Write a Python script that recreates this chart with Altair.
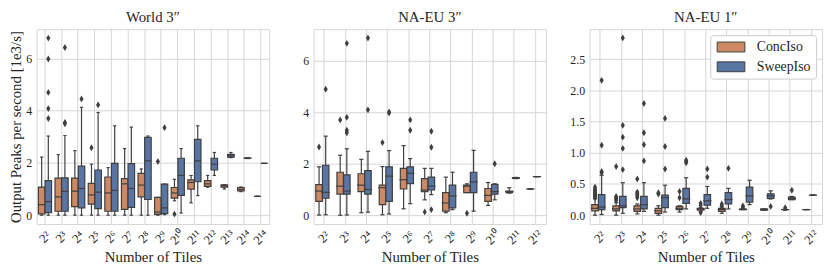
import altair as alt
import pandas as pd

HUES = ["ConcIso", "SweepIso"]
COLORS = ["#cc8963", "#5875a4"]
FONT = "Liberation Serif"
TEXT = "#262626"
GRID = "#d6d6d6"
LINE = "#3f3f3f"

# ---------------- World 3'' ----------------
W_LABELS = ["2²", "2³", "2⁴", "2⁵", "2⁶", "2⁷", "2⁸", "2⁹", "2¹⁰", "2¹¹", "2¹²", "2¹³", "2¹⁴", "2¹⁴"]
W_CONC_LO = [0.00, 0.00, 0.00, 0.00, 0.00, 0.00, 0.00, 0.00, 0.55, 0.47, 1.07, 1.00, 0.90, 0.72]
W_CONC_Q1 = [0.05, 0.15, 0.33, 0.42, 0.15, 0.22, 0.70, 0.03, 0.65, 1.00, 1.10, 1.07, 0.93, 0.72]
W_CONC_MED = [0.40, 0.70, 0.92, 0.78, 0.85, 1.20, 1.15, 0.12, 0.85, 1.25, 1.20, 1.12, 0.99, 0.72]
W_CONC_Q3 = [1.07, 1.42, 1.42, 1.22, 1.46, 1.40, 1.60, 0.68, 1.06, 1.35, 1.32, 1.16, 1.06, 0.72]
W_CONC_HI = [2.22, 2.32, 2.47, 1.95, 1.82, 2.55, 1.77, 0.68, 1.37, 1.52, 1.52, 1.17, 1.08, 0.72]
W_CONC_OUT = [[], [], [], [2.58], [], [], [], [2.05], [0.04], [], [], [], [], []]
W_SWEEP_LO = [0.00, 0.00, 0.00, 0.00, 0.00, 0.00, 0.00, 0.02, 0.08, 0.75, 1.52, 2.20, 2.17, 1.98]
W_SWEEP_Q1 = [0.10, 0.15, 0.28, 0.25, 0.15, 0.30, 0.60, 0.06, 0.76, 1.28, 1.73, 2.22, 2.17, 1.98]
W_SWEEP_MED = [0.52, 0.91, 1.02, 0.88, 0.95, 1.02, 2.08, 0.28, 1.52, 2.08, 1.95, 2.27, 2.18, 1.98]
W_SWEEP_Q3 = [1.32, 1.43, 1.88, 1.73, 1.98, 1.97, 2.98, 1.19, 2.18, 2.90, 2.18, 2.33, 2.19, 1.98]
W_SWEEP_HI = [3.03, 3.05, 4.13, 3.93, 3.42, 3.37, 3.03, 1.19, 2.55, 3.42, 2.40, 2.40, 2.20, 1.98]
W_SWEEP_OUT = [[3.70, 4.08, 4.70, 5.98, 6.78], [3.50, 3.55, 6.42], [4.45], [4.22], [], [], [], [3.35], [], [], [], [], [], []]

# ---------------- NA-EU 3'' ----------------
N3_LABELS = ["2²", "2³", "2⁴", "2⁵", "2⁶", "2⁷", "2⁸", "2⁹", "2¹⁰", "2¹¹", "2¹²"]
N3_CONC_LO = [0.01, 0.00, 0.10, 0.02, 0.25, 0.60, 0.10, 0.88, 0.38, 0.86, 1.02]
N3_CONC_Q1 = [0.54, 0.82, 0.92, 0.41, 1.02, 0.92, 0.16, 0.88, 0.54, 0.88, 1.02]
N3_CONC_MED = [0.94, 1.13, 1.17, 1.07, 1.38, 0.98, 0.48, 1.13, 0.77, 0.92, 1.02]
N3_CONC_Q3 = [1.19, 1.67, 1.61, 1.17, 1.82, 1.42, 0.88, 1.17, 1.04, 0.94, 1.02]
N3_CONC_HI = [1.88, 2.33, 2.17, 1.89, 2.70, 1.82, 1.48, 1.22, 1.27, 1.07, 1.02]
N3_CONC_OUT = [[2.65], [3.70], [], [2.82], [], [0.13], [], [0.08], [], [], []]
N3_SWEEP_LO = [0.02, 0.01, 0.12, 0.05, 0.45, 0.80, 0.22, 0.16, 0.60, 1.42, 1.50]
N3_SWEEP_Q1 = [0.66, 0.82, 0.82, 0.54, 1.23, 0.98, 0.29, 0.88, 0.82, 1.43, 1.50]
N3_SWEEP_MED = [0.89, 0.94, 1.00, 1.52, 1.63, 1.13, 0.75, 1.29, 0.92, 1.45, 1.50]
N3_SWEEP_Q3 = [1.94, 1.57, 1.73, 1.88, 1.88, 1.48, 1.17, 1.67, 1.20, 1.46, 1.50]
N3_SWEEP_HI = [3.07, 2.58, 2.48, 2.51, 2.20, 1.82, 1.67, 2.52, 1.22, 1.47, 1.50]
N3_SWEEP_OUT = [[4.89], [3.20, 3.30, 3.80, 6.67], [4.09, 6.88], [3.97, 4.01], [3.30, 3.70],
                [0.22, 2.64, 3.26], [], [], [2.00], [], []]

# ---------------- NA-EU 1'' ----------------
N1_LABELS = ["2²", "2³", "2⁴", "2⁵", "2⁶", "2⁷", "2⁸", "2⁹", "2¹⁰", "2¹¹", "2¹²"]
N1_CONC_LO = [0.00, 0.00, 0.02, 0.00, 0.05, 0.06, 0.03, 0.09, 0.08, 0.08, 0.09]
N1_CONC_Q1 = [0.07, 0.07, 0.06, 0.03, 0.09, 0.08, 0.06, 0.09, 0.08, 0.09, 0.09]
N1_CONC_MED = [0.11, 0.10, 0.10, 0.07, 0.11, 0.10, 0.09, 0.09, 0.09, 0.09, 0.09]
N1_CONC_Q3 = [0.17, 0.15, 0.15, 0.11, 0.14, 0.11, 0.11, 0.10, 0.10, 0.09, 0.09]
N1_CONC_HI = [0.26, 0.20, 0.18, 0.15, 0.15, 0.12, 0.13, 0.11, 0.10, 0.10, 0.09]
N1_CONC_OUT = [[0.28, 0.30, 0.32, 0.34, 0.36, 0.38, 0.40, 0.42, 0.45], [0.24, 0.26, 0.28, 0.30, 0.78],
               [0.28, 0.31, 0.33, 0.35, 0.37, 0.58], [0.34, 0.36], [0.28, 0.38], [0.04, 0.16, 0.19],
               [0.15, 0.18], [0.13, 0.15], [], [0.12], []]
N1_SWEEP_LO = [0.01, 0.03, 0.06, 0.05, 0.10, 0.11, 0.10, 0.17, 0.26, 0.25, 0.32]
N1_SWEEP_Q1 = [0.09, 0.12, 0.10, 0.12, 0.19, 0.16, 0.18, 0.21, 0.27, 0.25, 0.32]
N1_SWEEP_MED = [0.13, 0.15, 0.17, 0.28, 0.26, 0.23, 0.25, 0.31, 0.31, 0.27, 0.32]
N1_SWEEP_Q3 = [0.33, 0.30, 0.30, 0.32, 0.43, 0.33, 0.36, 0.45, 0.34, 0.29, 0.32]
N1_SWEEP_HI = [0.64, 0.52, 0.52, 0.48, 0.60, 0.46, 0.43, 0.56, 0.39, 0.30, 0.32]
N1_SWEEP_OUT = [[0.68, 0.70, 1.12, 2.16], [0.73, 1.07, 1.25, 1.44, 2.84], [0.87, 1.13, 1.32, 1.79],
                [0.74, 1.10, 1.55], [0.84, 0.86, 0.88], [0.61, 0.74], [0.75], [], [0.14], [0.40], []]

PANEL_W = 235
PANEL_H = 197
DIAMOND = "M0,-1L0.6,0L0,1L-0.6,0Z"


def build(title, labels, conc, sweep, conc_out, sweep_out, ydom, yvals, yfmt, ytitle,
          show_legend, min_ext):
    n = len(labels)
    rows, orows = [], []
    for hue, st, outs in (("ConcIso", conc, conc_out), ("SweepIso", sweep, sweep_out)):
        lo, q1, med, q3, hi = st
        for i in range(n):
            rows.append(dict(pos=i, hue=hue, lo=lo[i], q1=q1[i], med=med[i], q3=q3[i], hi=hi[i]))
            for v in outs[i]:
                orows.append(dict(pos=i, hue=hue, v=v))
    df = pd.DataFrame(rows)
    dfo = pd.DataFrame(orows)
    step = PANEL_W / n
    boxw = step * 0.8 / 2 * 0.98
    capw = boxw * 0.5

    label_arr = "[" + ",".join("'" + s + "'" for s in labels) + "]"
    xenc = alt.X(
        "pos:O",
        scale=alt.Scale(paddingInner=0.2, paddingOuter=0.1),
        title="Number of Tiles",
        axis=alt.Axis(
            labelExpr=label_arr + "[datum.value]", labelAngle=315, labelAlign="center",
            labelBaseline="middle", labelPadding=13, labelFont=FONT, labelFontSize=13,
            labelColor=TEXT, ticks=False, tickSize=0, domain=False, grid=True,
            gridColor=GRID, gridWidth=1, bandPosition=0.5, titleFont=FONT,
            titleFontSize=15, titleFontWeight="normal", titleColor=TEXT, titlePadding=2,
            labelOverlap=False,
        ),
    )
    xoff = alt.XOffset("hue:N", scale=alt.Scale(domain=HUES, paddingInner=0.02, paddingOuter=0.01))
    yscale = alt.Scale(domain=ydom, nice=False, zero=False)
    yaxis = alt.Axis(
        values=yvals, format=yfmt, labelFont=FONT, labelFontSize=12, labelColor=TEXT,
        labelPadding=5, ticks=False, tickSize=0, domain=False, grid=True, gridColor=GRID,
        gridWidth=1, titleFont=FONT, titleFontSize=15, titleFontWeight="normal",
        titleColor=TEXT, titlePadding=2, minExtent=min_ext,
    )

    def Y(field):
        return alt.Y(field, scale=yscale, axis=yaxis, title=ytitle)

    base = alt.Chart(df)
    whisk = base.mark_rule(color=LINE, strokeWidth=1.2).encode(
        x=xenc, xOffset=xoff, y=Y("lo:Q"), y2="hi:Q")
    cap_lo = base.mark_tick(color=LINE, thickness=1.2, size=capw, orient="horizontal", opacity=1).encode(
        x=xenc, xOffset=xoff, y=Y("lo:Q"))
    cap_hi = base.mark_tick(color=LINE, thickness=1.2, size=capw, orient="horizontal", opacity=1).encode(
        x=xenc, xOffset=xoff, y=Y("hi:Q"))
    if show_legend:
        legend = alt.Legend(
            title=None, orient="top-right", offset=6, padding=5, fillColor="white",
            strokeColor="#cccccc", cornerRadius=3, symbolType="M-1,-1H4.6V1H-1Z",
            symbolSize=100, symbolStrokeColor=LINE, symbolStrokeWidth=1, symbolOpacity=1,
            labelFont=FONT, labelFontSize=14, labelColor=TEXT, labelOffset=28, rowPadding=6,
        )
    else:
        legend = None
    box = base.mark_bar(stroke=LINE, strokeWidth=1.2, opacity=1).encode(
        x=xenc, xOffset=xoff, y=Y("q1:Q"), y2="q3:Q",
        color=alt.Color("hue:N", scale=alt.Scale(domain=HUES, range=COLORS), legend=legend))
    med = base.mark_tick(color=LINE, thickness=1.2, size=boxw, orient="horizontal", opacity=1).encode(
        x=xenc, xOffset=xoff, y=Y("med:Q"))
    outl = alt.Chart(dfo).mark_point(shape=DIAMOND, filled=True, size=48, color=LINE, opacity=1).encode(
        x=xenc, xOffset=xoff, y=Y("v:Q"))

    return alt.layer(whisk, cap_lo, cap_hi, box, med, outl).properties(
        width=PANEL_W, height=PANEL_H,
        title=alt.TitleParams(title, font=FONT, fontSize=15, fontWeight="normal", color=TEXT,
                              offset=4, anchor="middle"),
    )


p1 = build("World 3″", W_LABELS,
           (W_CONC_LO, W_CONC_Q1, W_CONC_MED, W_CONC_Q3, W_CONC_HI),
           (W_SWEEP_LO, W_SWEEP_Q1, W_SWEEP_MED, W_SWEEP_Q3, W_SWEEP_HI),
           W_CONC_OUT, W_SWEEP_OUT, [-0.34, 7.12], [0, 2, 4, 6], "d",
           "Output Peaks per second [1e3/s]", False, 0)
p2 = build("NA-EU 3″", N3_LABELS,
           (N3_CONC_LO, N3_CONC_Q1, N3_CONC_MED, N3_CONC_Q3, N3_CONC_HI),
           (N3_SWEEP_LO, N3_SWEEP_Q1, N3_SWEEP_MED, N3_SWEEP_Q3, N3_SWEEP_HI),
           N3_CONC_OUT, N3_SWEEP_OUT, [-0.34, 7.22], [0, 2, 4, 6], "d",
           None, False, 23)
p3 = build("NA-EU 1″", N1_LABELS,
           (N1_CONC_LO, N1_CONC_Q1, N1_CONC_MED, N1_CONC_Q3, N1_CONC_HI),
           (N1_SWEEP_LO, N1_SWEEP_Q1, N1_SWEEP_MED, N1_SWEEP_Q3, N1_SWEEP_HI),
           N1_CONC_OUT, N1_SWEEP_OUT, [-0.142, 2.98], [0, 0.5, 1.0, 1.5, 2.0, 2.5], ".1f",
           None, True, 23)

chart = alt.hconcat(p1, p2, p3, spacing=19).resolve_scale(
    color="independent", x="independent", y="independent"
).resolve_legend(color="independent").properties(
    padding={"left": 0, "top": 0, "right": 0, "bottom": 0}, background="white"
).configure_view(stroke=GRID, strokeWidth=1).configure_axis(
    labelFont=FONT, titleFont=FONT, titleFontWeight="normal", labelColor=TEXT, titleColor=TEXT
).configure_title(font=FONT, fontWeight="normal", color=TEXT).configure_legend(
    labelFont=FONT, titleFont=FONT
)

chart.save("out.html", embed_options={"renderer": "svg", "actions": False})
